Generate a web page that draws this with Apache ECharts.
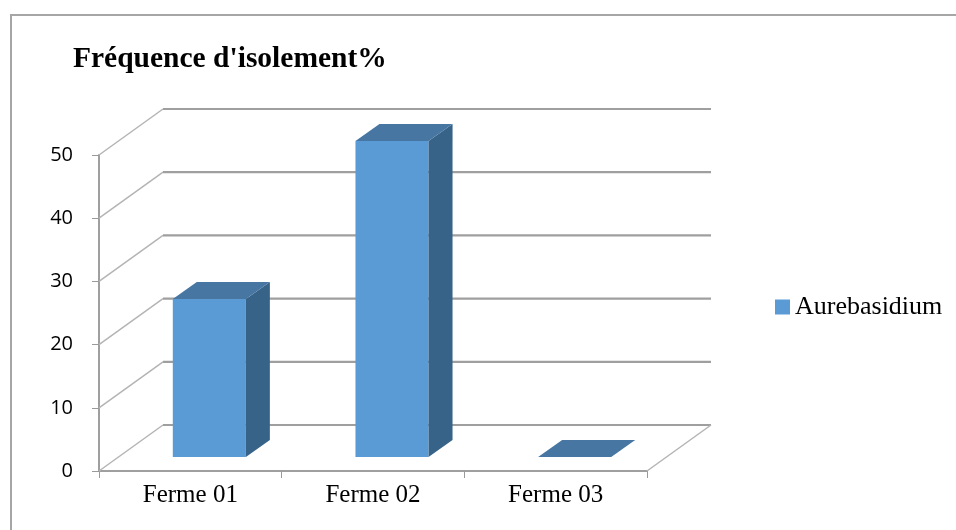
<!DOCTYPE html>
<html>
<head>
<meta charset="utf-8">
<script src="https://cdn.jsdelivr.net/npm/echarts@6/dist/echarts.min.js"></script>
<style>
  html, body { margin: 0; padding: 0; background: #fff; }
  #chart { width: 956px; height: 530px; }
</style>
</head>
<body>
<div id="chart"></div>
<script>
// Data
const categories = ['Ferme 01', 'Ferme 02', 'Ferme 03'];
const seriesName = 'Aurebasidium';
const values = [25, 50, 0];
const yTicks = [0, 10, 20, 30, 40, 50];
const chartTitle = "Fréquence d'isolement%";

// 3D look: pixel offsets for the receding floor / walls and for the column faces
const DEPTH = [64, -46];
const BAR_FRONT = [19, -14];
const BAR_BACK = [43, -31];
const BAR_WIDTH_RATIO = 0.4;

const COL_FRONT = '#5B9BD5';
const COL_TOP = '#4676A1';
const COL_SIDE = '#386388';
const WALL_LINE = '#9F9F9F';

const chart = echarts.init(document.getElementById('chart'), null, { renderer: 'canvas' });

// Left wall diagonals + back wall gridlines (+ right floor edge at 0)
function renderWalls(params, api) {
  const v = api.value(1);
  const band = api.size([1, 0])[0];
  const first = api.coord([0, v]);
  const last = api.coord([categories.length - 1, v]);
  const xl = first[0] - band / 2;
  const xr = last[0] + band / 2;
  const y = first[1];
  const children = [
    { type: 'line', shape: { x1: xl, y1: y, x2: xl + DEPTH[0], y2: y + DEPTH[1] },
      style: { stroke: '#B4B4B4', lineWidth: 1.5 } },
    { type: 'line', shape: { x1: xl + DEPTH[0], y1: y + DEPTH[1], x2: xr + DEPTH[0], y2: y + DEPTH[1] },
      style: { stroke: WALL_LINE, lineWidth: 2.2 } }
  ];
  if (v === 0) {
    children.push({ type: 'line', shape: { x1: xr, y1: y, x2: xr + DEPTH[0], y2: y + DEPTH[1] },
      style: { stroke: '#B4B4B4', lineWidth: 1.5 } });
  }
  return { type: 'group', children };
}

// Columns drawn as front face, top face and right side face
function renderColumn(params, api) {
  const idx = api.value(0);
  const v = api.value(1);
  const base = api.coord([idx, 0]);
  const top = api.coord([idx, v]);
  const band = api.size([1, 0])[0];
  const w = band * BAR_WIDTH_RATIO;
  const x0 = base[0] - w / 2 + BAR_FRONT[0];
  const x1 = x0 + w;
  const yb = base[1] + BAR_FRONT[1];
  const yt = top[1] + BAR_FRONT[1];
  const ddx = BAR_BACK[0] - BAR_FRONT[0];
  const ddy = BAR_BACK[1] - BAR_FRONT[1];
  const children = [];
  if (yb - yt > 0.5) {
    children.push({ type: 'rect', shape: { x: x0, y: yt, width: w, height: yb - yt },
      style: { fill: COL_FRONT } });
    children.push({ type: 'polygon', shape: { points: [[x1, yt], [x1 + ddx, yt + ddy], [x1 + ddx, yb + ddy], [x1, yb]] },
      style: { fill: COL_SIDE } });
  }
  children.push({ type: 'polygon', shape: { points: [[x0, yt], [x1, yt], [x1 + ddx, yt + ddy], [x0 + ddx, yt + ddy]] },
    style: { fill: COL_TOP } });
  return { type: 'group', children };
}

const option = {
  animation: false,
  color: [COL_FRONT],
  title: {
    text: chartTitle,
    left: 68,
    top: 39,
    textStyle: { fontFamily: 'Liberation Serif', fontWeight: 'bold', fontSize: 29.5, color: '#000' }
  },
  legend: {
    data: [{ name: seriesName, icon: 'rect' }],
    left: 770,
    top: 289,
    itemWidth: 15,
    itemHeight: 15,
    itemGap: 6,
    textStyle: { fontFamily: 'Liberation Serif', fontSize: 26, color: '#000' }
  },
  grid: { left: 99, top: 155, width: 548, height: 316 },
  xAxis: {
    type: 'category',
    data: categories,
    axisLine: { lineStyle: { color: WALL_LINE, width: 2 } },
    axisTick: { show: true, length: 7, lineStyle: { color: '#9A9A9A', width: 1 } },
    axisLabel: { fontFamily: 'Liberation Serif', fontSize: 25, color: '#000', margin: 12 },
    splitLine: { show: false }
  },
  yAxis: {
    type: 'value',
    min: 0,
    max: 50,
    interval: 10,
    axisLine: { show: true, lineStyle: { color: WALL_LINE, width: 2 } },
    axisTick: { show: true, length: 7, lineStyle: { color: '#9A9A9A', width: 1 } },
    axisLabel: { fontFamily: 'Open Sans', fontSize: 20, color: '#000', margin: 26 },
    splitLine: { show: false }
  },
  graphic: [{
    type: 'rect',
    shape: { x: 11, y: 15, width: 980, height: 560 },
    style: { fill: 'none', stroke: '#A6A6A6', lineWidth: 2 },
    z: -10
  }],
  series: [
    {
      type: 'custom',
      name: 'walls',
      renderItem: renderWalls,
      data: yTicks.map(v => [0, v]),
      z: 1,
      silent: true
    },
    {
      type: 'custom',
      name: seriesName,
      renderItem: renderColumn,
      itemStyle: { color: COL_FRONT },
      data: values.map((v, i) => [i, v]),
      z: 5
    }
  ]
};

chart.setOption(option);
</script>
</body>
</html>
